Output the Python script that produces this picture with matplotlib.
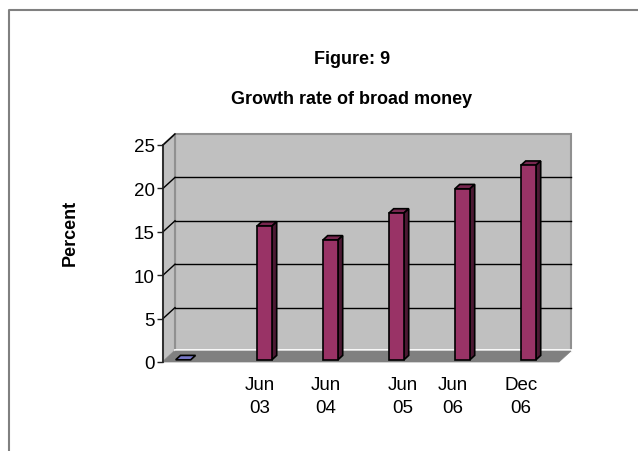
import numpy as np
import matplotlib.pyplot as plt
from matplotlib.patches import Polygon
from matplotlib.lines import Line2D

plt.rcParams["font.family"] = ["Liberation Sans", "DejaVu Sans"]

# Broad money growth, percent
positions = [-0.23, 1, 2, 3, 4, 5]
values = [0.0, 15.4, 13.8, 16.9, 19.7, 22.4]
bar_colors = ["#9999FF", "#993366", "#993366", "#993366", "#993366", "#993366"]

tick_labels = ["Jun\n03", "Jun\n04", "Jun\n05", "Jun\n06", "Dec\n06"]
tick_pos = [0.97, 1.97, 3.14, 3.89, 4.92]
y_ticks = [0, 5, 10, 15, 20, 25]

W, H = 638, 452
fig = plt.figure(figsize=(W / 100, H / 100), dpi=100)
fig.patch.set_facecolor("white")

# front plane of the 3d box in pixels
x0_px, x1_px, y0_px, y1_px = 163, 559, 363, 146
ax = fig.add_axes([x0_px / W, 1 - y0_px / H, (x1_px - x0_px) / W, (y0_px - y1_px) / H])
ax.set_xlim(-0.5, 5.5)
ax.set_ylim(0, 25)
ax.patch.set_visible(False)

# depth offset of the back wall, in data units
px_per_cat = (x1_px - x0_px) / 6
px_per_val = (y0_px - y1_px) / 25
DX = 12 / px_per_cat
DY = 11 / px_per_val


def proj(x, y, z):
    return (x + z * DX, y + z * DY)


def face(pts, fc, ec, lw=1.0, zorder=1):
    ax.add_patch(Polygon([proj(*p) for p in pts], closed=True, facecolor=fc,
                         edgecolor=ec, linewidth=lw, zorder=zorder, clip_on=False,
                         joinstyle="miter"))


xa, xb = -0.5, 5.5
ymax = 25

# walls and floor
face([(xa, 0, 1), (xb, 0, 1), (xb, ymax, 1), (xa, ymax, 1)], "#C0C0C0", "#909090", 1.5)
face([(xa, 0, 0), (xa, 0, 1), (xa, ymax, 1), (xa, ymax, 0)], "#C0C0C0", "#909090", 1.5)
ax.plot(*zip(proj(xa, 0.15, 1), proj(xb, 0.15, 1)), color="white", lw=2, zorder=1.5,
        clip_on=False)
face([(xa, 0, 0), (xb, 0, 0), (xb, 0, 1), (xa, 0, 1)], "#808080", "#808080", 0.5, zorder=2)

# gridlines on back and side walls
for t in y_ticks[1:-1]:
    ax.plot(*zip(proj(xa, t, 1), proj(xb, t, 1)), color="black", lw=1, zorder=1.6,
            clip_on=False)
for t in y_ticks[1:]:
    ax.plot(*zip(proj(xa, t, 0), proj(xa, t, 1)), color="black", lw=1, zorder=1.6,
            clip_on=False)

# 3d columns
bw = 15 / px_per_cat
z0, z1 = 0.2, 0.6


def shade(c, k):
    r, g, b = [int(c[i:i + 2], 16) for i in (1, 3, 5)]
    return "#%02x%02x%02x" % (int(r * k), int(g * k), int(b * k))


for x, v, c in zip(positions, values, bar_colors):
    l, r = x - bw / 2, x + bw / 2
    face([(l, v, z0), (r, v, z0), (r, v, z1), (l, v, z1)], shade(c, 0.78), "black", 1.2, zorder=3)
    if v > 0:
        face([(r, 0, z0), (r, 0, z1), (r, v, z1), (r, v, z0)], shade(c, 0.5), "black", 1.2, zorder=3)
        face([(l, 0, z0), (r, 0, z0), (r, v, z0), (l, v, z0)], c, "black", 1.2, zorder=4)

# axes, ticks and labels
for s in ["top", "right", "bottom"]:
    ax.spines[s].set_visible(False)
ax.spines["left"].set_color("#202020")
ax.spines["left"].set_linewidth(1.2)
ax.set_yticks(y_ticks)
ax.tick_params(axis="y", length=4.5, width=1, color="#202020", pad=1.5, labelsize=13.5)
ax.set_xticks(tick_pos, tick_labels, linespacing=1.45)
ax.tick_params(axis="x", length=0, pad=10, labelsize=13.5)

fig.text(352 / W, 1 - 60 / H, "Figure: 9", ha="center", va="center",
         fontsize=13, fontweight="bold")
fig.text(352 / W, 1 - 100 / H, "Growth rate of broad money", ha="center", va="center",
         fontsize=13, fontweight="bold")
fig.text(70 / W, 1 - 233 / H, "Percent", ha="center", va="center", rotation=90,
         fontsize=13, fontweight="bold")

# outer frame
fig.add_artist(Line2D([8.5 / W, 8.5 / W, 1.01], [-0.01, 1 - 11 / H, 1 - 11 / H],
                      transform=fig.transFigure, color="#808080", lw=1.5))

fig.savefig("out.png", dpi=100)
